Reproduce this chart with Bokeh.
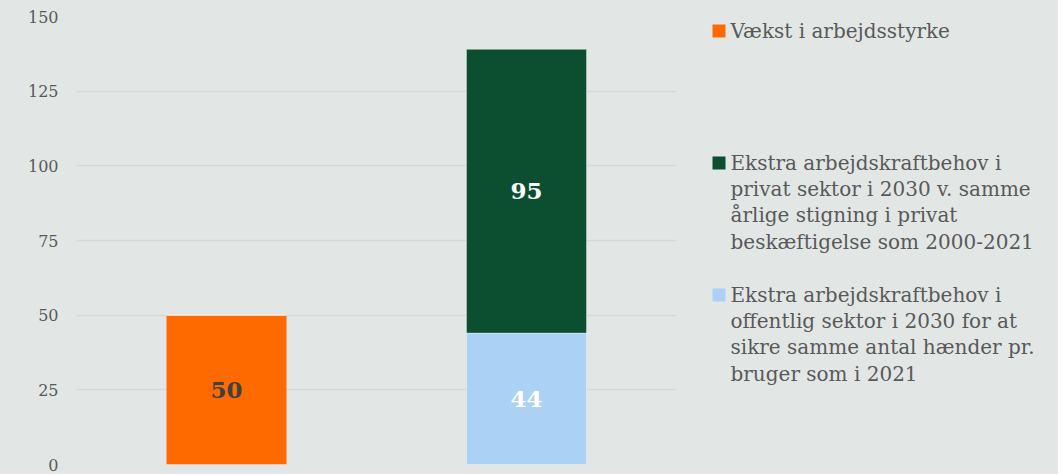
from bokeh.plotting import figure
from bokeh.models import ColumnDataSource, Range1d, FixedTicker
from bokeh.layouts import row
from bokeh.embed import file_html
from bokeh.resources import INLINE
from bokeh.core.properties import value

# ---- data ----
categories = ["Vækst i arbejdsstyrke", "Ekstra arbejdskraftbehov"]
vaekst = [50, 0]
offentlig = [0, 44]
privat = [0, 95]
y_ticks = [0, 25, 50, 75, 100, 125, 150]

legend_entries = [
    ["Vækst i arbejdsstyrke"],
    ["Ekstra arbejdskraftbehov i", "privat sektor i 2030 v. samme",
     "årlige stigning i privat", "beskæftigelse som 2000-2021"],
    ["Ekstra arbejdskraftbehov i", "offentlig  sektor i 2030 for at",
     "sikre samme antal hænder pr.", "bruger som i 2021"],
]

# ---- styles ----
BG = "#e2e7e6"
C_ORANGE = "#ff6a00"
C_GREEN = "#0c4f30"
C_BLUE = "#abd1f5"
TXT = "#595959"
FONT = "DejaVu Serif"

MAIN_W, H = 696, 474
TOP, BOT = 16, 10
p = figure(x_range=categories, y_range=Range1d(0, 150),
           width=MAIN_W, height=H, output_backend="svg", toolbar_location=None,
           min_border_left=76, min_border_right=20, min_border_top=TOP, min_border_bottom=BOT)
p.background_fill_color = BG
p.border_fill_color = BG
p.outline_line_color = None

v_bot = [0] * len(categories)
v_top = [b + v for b, v in zip(v_bot, vaekst)]
o_bot = v_top
o_top = [b + v for b, v in zip(o_bot, offentlig)]
pr_bot = o_top
pr_top = [b + v for b, v in zip(pr_bot, privat)]

src = ColumnDataSource(dict(cat=categories, v_bot=v_bot, v_top=v_top,
                            o_bot=o_bot, o_top=o_top, pr_bot=pr_bot, pr_top=pr_top))

bw = 0.4
p.vbar(x="cat", bottom="v_bot", top="v_top", width=bw, source=src,
       fill_color=C_ORANGE, line_color=None)
p.vbar(x="cat", bottom="o_bot", top="o_top", width=bw, source=src,
       fill_color=C_BLUE, line_color="#ffffff", line_alpha=0.35, line_width=1)
p.vbar(x="cat", bottom="pr_bot", top="pr_top", width=bw, source=src,
       fill_color=C_GREEN, line_color="#ffffff", line_alpha=0.35, line_width=1)

# value labels at segment centres
lab_x, lab_y, lab_t, lab_c = [], [], [], []
for i, c in enumerate(categories):
    for bot, top, col in ((v_bot[i], v_top[i], "#404040"),
                          (o_bot[i], o_top[i], "#ffffff"),
                          (pr_bot[i], pr_top[i], "#ffffff")):
        if top - bot > 0:
            lab_x.append(c)
            lab_y.append((bot + top) / 2)
            lab_t.append(str(top - bot))
            lab_c.append(col)
p.text(x=lab_x, y=lab_y, text=lab_t, text_color=lab_c,
       text_font=value(FONT), text_font_style="bold", text_font_size="23px",
       text_align="center", text_baseline="middle")

p.xaxis.visible = False
p.xgrid.grid_line_color = None
p.ygrid.grid_line_color = "#d5d8da"
p.ygrid.grid_line_width = 1.5
p.yaxis.ticker = FixedTicker(ticks=y_ticks)
p.yaxis.axis_line_color = None
p.yaxis.major_tick_line_color = None
p.yaxis.minor_tick_line_color = None
p.yaxis.major_tick_out = 0
p.yaxis.major_tick_in = 0
p.yaxis.major_label_standoff = 18
p.yaxis.major_label_text_font = FONT
p.yaxis.major_label_text_font_size = "16px"
p.yaxis.major_label_text_color = TXT

# ---- legend panel (frame aligned with main plot: data units = page pixels) ----
LW = 1058 - MAIN_W
lg = figure(width=LW, height=H, x_range=Range1d(MAIN_W, MAIN_W + LW),
            y_range=Range1d(H - BOT, TOP),
            output_backend="svg", toolbar_location=None,
            min_border=0, min_border_left=0, min_border_right=0,
            min_border_top=TOP, min_border_bottom=BOT)
lg.background_fill_color = BG
lg.border_fill_color = BG
lg.outline_line_color = None
lg.axis.visible = False
lg.grid.visible = False

entry_colors = [C_ORANGE, C_GREEN, C_BLUE]
entry_top = [30, 162, 294]
line_h = 26.4
tx, ty, tt = [], [], []
sx, sy, sc = [], [], []
for lines, col, y0 in zip(legend_entries, entry_colors, entry_top):
    sx.append(718.5)
    sy.append(y0 + 0.5)
    sc.append(col)
    for j, ln in enumerate(lines):
        tx.append(730)
        ty.append(y0 + j * line_h)
        tt.append(ln)
lg.rect(x=sx, y=sy, width=13, height=13, fill_color=sc, line_color=None)
lg.text(x=tx, y=ty, text=tt, text_color=TXT, text_font=value(FONT),
        text_font_size="20px", text_align="left", text_baseline="middle")

layout = row(p, lg, spacing=0)
layout.styles = {"background-color": BG}

open("out.html", "w").write(file_html(layout, INLINE))
